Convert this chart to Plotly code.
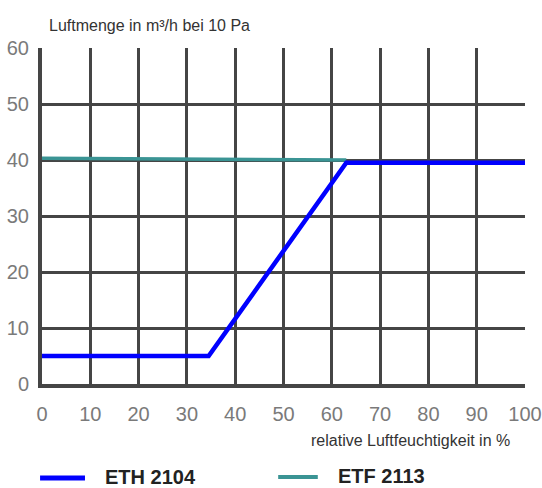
import plotly.graph_objects as go

# Data
eth_x = [0, 34.5, 63, 100]
eth_y = [5, 5, 39.5, 39.5]
etf_x = [0, 63]
etf_y = [40.3, 40]
x_ticks = [0, 10, 20, 30, 40, 50, 60, 70, 80, 90, 100]
y_ticks = [0, 10, 20, 30, 40, 50, 60]
names = ["ETH 2104", "ETF 2113"]
colors = ["#0000FF", "#3A9494"]

fig = go.Figure()
fig.add_trace(go.Scatter(x=etf_x, y=etf_y, mode="lines", name=names[1],
                         line=dict(color=colors[1], width=3.5), showlegend=False))
fig.add_trace(go.Scatter(x=eth_x, y=eth_y, mode="lines", name=names[0],
                         line=dict(color=colors[0], width=4.5), showlegend=False))

tickfont = dict(family="Liberation Sans Narrow, Arial Narrow, Liberation Sans, Arial", size=20, color="#7a7a7a")
txtfont = dict(family="Liberation Sans, Arial", size=16, color="#333")
legfont = dict(family="Liberation Sans, Arial", size=20, color="#222")

# manual legend (paper coords; plot area = 336 px tall, 483 px wide)
shapes = [
    dict(type="line", xref="paper", yref="paper", x0=-0.004, x1=0.089, y0=-0.280, y1=-0.280,
         line=dict(color=colors[0], width=5)),
    dict(type="line", xref="paper", yref="paper", x0=0.489, x1=0.571, y0=-0.277, y1=-0.277,
         line=dict(color=colors[1], width=4)),
]
annotations = [
    dict(text="Luftmenge in m³/h bei 10 Pa", xref="paper", yref="paper", x=0.010, y=1.068,
         xanchor="left", yanchor="middle", showarrow=False, font=txtfont),
    dict(text="relative Luftfeuchtigkeit in %", xref="paper", yref="paper", x=0.973, y=-0.167,
         xanchor="right", yanchor="middle", showarrow=False, font=txtfont),
    dict(text="<b>" + names[0] + "</b>", xref="paper", yref="paper", x=0.126, y=-0.277,
         xanchor="left", yanchor="middle", showarrow=False, font=legfont),
    dict(text="<b>" + names[1] + "</b>", xref="paper", yref="paper", x=0.609, y=-0.274,
         xanchor="left", yanchor="middle", showarrow=False, font=legfont),
]

fig.update_layout(
    width=542, height=488,
    margin=dict(l=42, r=17, t=48, b=104, autoexpand=False),
    paper_bgcolor="white", plot_bgcolor="white",
    showlegend=False,
    xaxis=dict(range=[0, 100], tickvals=x_ticks, showgrid=True, gridcolor="#454545", gridwidth=2.5,
               showline=True, linecolor="#454545", linewidth=4, zeroline=False, automargin=False,
               ticks="", ticklabelstandoff=9, tickfont=tickfont, fixedrange=True),
    yaxis=dict(range=[0, 60], tickvals=y_ticks, showgrid=True, gridcolor="#454545", gridwidth=2.5,
               showline=True, linecolor="#454545", linewidth=4, zeroline=False, automargin=False,
               ticks="", ticklabelstandoff=5, tickfont=tickfont, fixedrange=True),
    shapes=shapes,
    annotations=annotations,
)
fig.write_html("out.html", config={"displayModeBar": False},
               post_script="document.body.style.margin='0';document.body.style.overflow='hidden';")
